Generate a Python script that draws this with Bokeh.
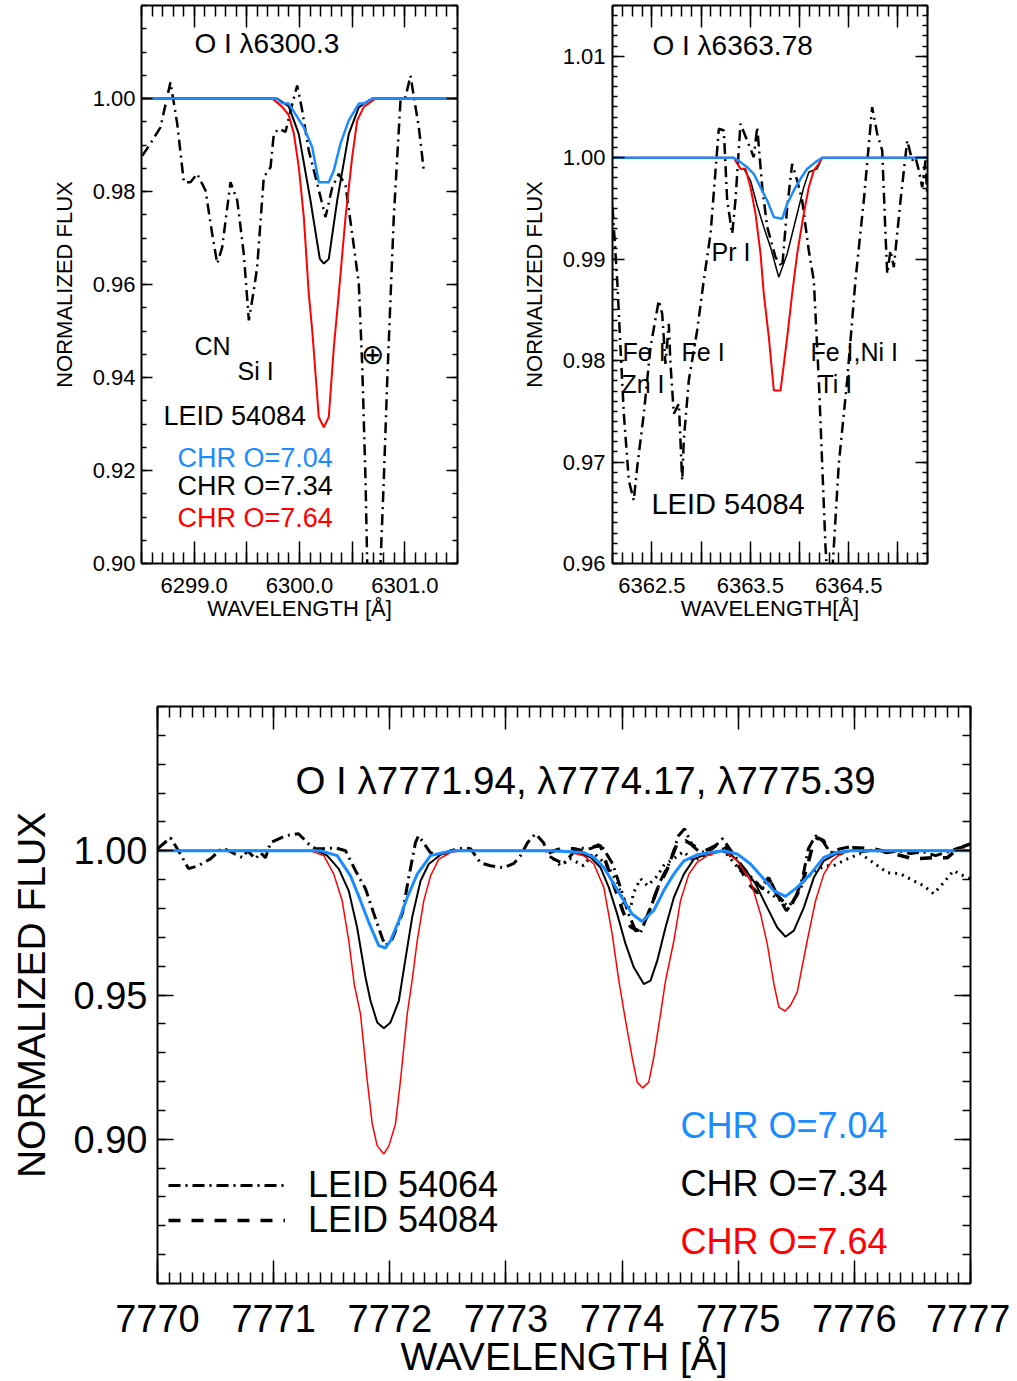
import numpy as np
from bokeh.plotting import figure
from bokeh.models import Range1d, LinearAxis, FixedTicker, CustomJSTickFormatter, Legend, LegendItem
from bokeh.layouts import column, row
from bokeh.embed import file_html
from bokeh.resources import INLINE
from bokeh.core.properties import value

FONT = "Liberation Sans"
BLUE = "#1a8cff"
RED = "#ff0000"
BLACK = "#000000"

# ================= DATA =================
# --- Panel 1: O I 6300.3 ---
p1_obs_wl = [6298.507, 6298.585, 6298.680, 6298.775, 6298.839, 6298.902, 6298.965, 6299.029, 6299.108, 6299.171,
             6299.219, 6299.266, 6299.345, 6299.409, 6299.471, 6299.519, 6299.566, 6299.598, 6299.661, 6299.725,
             6299.756, 6299.804, 6299.867, 6299.915, 6299.978, 6300.026, 6300.088, 6300.168, 6300.247, 6300.311,
             6300.373, 6300.437, 6300.500, 6300.563, 6300.595, 6300.627, 6300.643, 6300.703, 6300.769, 6300.800,
             6300.833, 6300.895, 6300.959, 6301.006, 6301.054, 6301.086, 6301.133, 6301.180]
p1_obs_fx = [0.9877, 0.9903, 0.9938, 1.0035, 0.9946, 0.9820, 0.9820, 0.9838, 0.9802, 0.9709,
             0.9645, 0.9680, 0.9820, 0.9781, 0.9666, 0.9523, 0.9587, 0.9637, 0.9831, 0.9852,
             0.9924, 0.9935, 0.9928, 0.9974, 1.0028, 0.9974, 0.9888, 0.9817, 0.9745, 0.9809,
             0.9838, 0.9813, 0.9709, 0.9602, 0.9429, 0.9178, 0.8999, 0.8700, 0.9000, 0.9178,
             0.9394, 0.9745, 0.9996, 1.0003, 1.0049, 1.0003, 0.9938, 0.9845]

p1_blue_wl = [6298.5, 6299.779, 6299.836, 6299.898, 6300.041, 6300.121, 6300.183, 6300.278, 6300.326, 6300.389,
              6300.468, 6300.563, 6300.611, 6300.690, 6301.5]
p1_blue_fx = [1.0, 1.0, 0.9990, 0.9989, 0.9938, 0.9895, 0.9820, 0.9820, 0.9845, 0.9903,
              0.9953, 0.9989, 0.9989, 1.0, 1.0]

p1_black_wl = [6298.5, 6299.788, 6299.898, 6299.993, 6300.104, 6300.193, 6300.231, 6300.278, 6300.358, 6300.468,
               6300.563, 6300.611, 6300.690, 6301.5]
p1_black_fx = [1.0, 1.0, 0.9983, 0.9924, 0.9781, 0.9655, 0.9645, 0.9655, 0.9781, 0.9924,
               0.9981, 0.9989, 1.0, 1.0]

p1_red_wl = [6298.5, 6299.741, 6299.836, 6299.898, 6299.946, 6299.993, 6300.041, 6300.088, 6300.121, 6300.183,
             6300.231, 6300.278, 6300.326, 6300.373, 6300.437, 6300.500, 6300.548, 6300.611, 6300.722, 6301.5]
p1_red_fx = [1.0, 1.0, 0.9982, 0.9964, 0.9925, 0.9853, 0.9745, 0.9580, 0.9501, 0.9315,
             0.9293, 0.9315, 0.9465, 0.9580, 0.9745, 0.9874, 0.9953, 0.9982, 1.0, 1.0]

# --- Panel 2: O I 6363.78 ---
p2_obs_wl = [6362.100, 6362.148, 6362.181, 6362.215, 6362.266, 6362.316, 6362.351, 6362.418, 6362.486, 6362.570,
             6362.605, 6362.638, 6362.672, 6362.689, 6362.723, 6362.774, 6362.808, 6362.824, 6362.875, 6362.960,
             6363.027, 6363.096, 6363.180, 6363.231, 6363.265, 6363.316, 6363.349, 6363.400, 6363.468, 6363.535,
             6363.570, 6363.621, 6363.672, 6363.756, 6363.824, 6363.875, 6363.925, 6363.976, 6364.027, 6364.094,
             6364.145, 6364.196, 6364.230, 6364.264, 6364.305, 6364.348, 6364.399, 6364.484, 6364.568, 6364.653,
             6364.738, 6364.789, 6364.840, 6364.873, 6364.891, 6364.924, 6364.958, 6365.026, 6365.094, 6365.144,
             6365.178, 6365.212, 6365.246, 6365.280, 6365.297]
p2_obs_fx = [0.99512, 0.98790, 0.98132, 0.97476, 0.96818, 0.96621, 0.96949, 0.97476, 0.98132, 0.98592,
             0.98461, 0.97968, 0.98363, 0.97968, 0.97476, 0.97574, 0.96818, 0.97212, 0.97804, 0.98297,
             0.98790, 0.99250, 1.00285, 1.00268, 0.99578, 0.99250, 0.99578, 1.00334, 1.00170, 1.00005,
             1.00301, 0.99709, 0.99315, 0.99019, 0.98921, 0.99512, 0.99940, 0.99775, 0.99578, 0.99085,
             0.98790, 0.97804, 0.96983, 0.96161, 0.95500, 0.96161, 0.96983, 0.97804, 0.98790, 0.99578,
             1.00498, 1.00236, 1.00071, 0.99250, 0.98856, 0.99085, 0.98921, 0.99578, 1.00170, 0.99974,
             1.00005, 0.99875, 0.99709, 0.99974, 0.99611]

p2_blue_wl = [6362.1, 6363.332, 6363.400, 6363.468, 6363.535, 6363.603, 6363.671, 6363.739, 6363.824, 6363.875,
              6363.942, 6364.010, 6364.078, 6364.162, 6364.230, 6365.3]
p2_blue_fx = [1.0, 1.0, 0.99956, 0.99906, 0.99841, 0.99709, 0.99578, 0.99414, 0.99398, 0.99546,
              0.99677, 0.99792, 0.99891, 0.99956, 1.0, 1.0]

p2_black_wl = [6362.1, 6363.332, 6363.400, 6363.434, 6363.502, 6363.570, 6363.637, 6363.705, 6363.789, 6363.875,
               6363.976, 6364.043, 6364.094, 6364.179, 6364.230, 6365.3]
p2_black_fx = [1.0, 1.0, 0.99891, 0.99891, 0.99775, 0.99529, 0.99315, 0.99118, 0.98822, 0.99053,
               0.99447, 0.99709, 0.99857, 0.99891, 1.0, 1.0]

p2_red_wl = [6362.1, 6363.332, 6363.400, 6363.451, 6363.502, 6363.553, 6363.604, 6363.637, 6363.688, 6363.739,
             6363.807, 6363.875, 6363.925, 6363.976, 6364.043, 6364.094, 6364.145, 6364.196, 6364.230, 6365.3]
p2_red_fx = [1.0, 1.0, 0.99891, 0.99891, 0.99709, 0.99447, 0.99053, 0.98658, 0.98231, 0.97705,
             0.97705, 0.98231, 0.98658, 0.99053, 0.99447, 0.99709, 0.99874, 0.99940, 1.0, 1.0]

# --- Panel 3: O I triplet ---
p3_leid54064_wl = [7770.000, 7770.112, 7770.181, 7770.267, 7770.353, 7770.456, 7770.560, 7770.646, 7770.732, 7770.775,
                   7770.844, 7770.887, 7770.930, 7770.973, 7771.102, 7771.214, 7771.300, 7771.360, 7771.421, 7771.533,
                   7771.619, 7771.705, 7771.791, 7771.860, 7771.937, 7771.963, 7772.023, 7772.110, 7772.161, 7772.221,
                   7772.247, 7772.290, 7772.351, 7772.437, 7772.523, 7772.635, 7772.695, 7772.781, 7772.867, 7772.979,
                   7773.065, 7773.126, 7773.186, 7773.255, 7773.324, 7773.367, 7773.410, 7773.496, 7773.616, 7773.728,
                   7773.814, 7773.918, 7773.987, 7774.055, 7774.116, 7774.159, 7774.245, 7774.331, 7774.417, 7774.486,
                   7774.538, 7774.607, 7774.675, 7774.779, 7774.865, 7774.951, 7775.037, 7775.123, 7775.209, 7775.278,
                   7775.347, 7775.415, 7775.484, 7775.553, 7775.604, 7775.666, 7775.726, 7775.794, 7775.881, 7775.967,
                   7776.070, 7776.173, 7776.276, 7776.380, 7776.483, 7776.586, 7776.699, 7776.811, 7776.897, 7777.000]
p3_leid54064_fx = [1.0007, 1.0045, 1.0000, 0.9938, 0.9948, 0.9972, 1.0010, 0.9993, 0.9976, 1.0000,
                   0.9972, 0.9993, 0.9976, 1.0028, 1.0052, 1.0059, 1.0024, 1.0007, 1.0007, 1.0010,
                   1.0000, 0.9931, 0.9868, 0.9785, 0.9695, 0.9671, 0.9695, 0.9785, 0.9903, 1.0028,
                   1.0052, 1.0028, 0.9993, 0.9983, 1.0000, 1.0010, 1.0007, 0.9958, 0.9948, 0.9941,
                   0.9955, 0.9983, 1.0028, 1.0059, 1.0028, 0.9983, 0.9972, 0.9955, 1.0010, 1.0007,
                   1.0024, 0.9955, 0.9872, 0.9782, 0.9723, 0.9716, 0.9802, 0.9896, 0.9965, 1.0052,
                   1.0076, 1.0017, 0.9993, 1.0007, 1.0042, 0.9993, 0.9945, 0.9903, 0.9868, 0.9896,
                   0.9837, 0.9792, 0.9827, 0.9903, 1.0007, 1.0052, 1.0035, 0.9993, 1.0007, 1.0014,
                   0.9997, 1.0003, 0.9993, 1.0000, 0.9990, 0.9997, 0.9983, 0.9997, 1.0010, 1.0017]

p3_leid54084_wl = [7773.367, 7773.470, 7773.582, 7773.659, 7773.745, 7773.814, 7773.900, 7773.961, 7774.012, 7774.073,
                   7774.133, 7774.219, 7774.305, 7774.391, 7774.477, 7774.546, 7774.632, 7774.718, 7774.804, 7774.865,
                   7774.934, 7775.020, 7775.080, 7775.166, 7775.261, 7775.338, 7775.399, 7775.450, 7775.536, 7775.597,
                   7775.640, 7775.683, 7775.734, 7775.795, 7775.881, 7775.993, 7776.165, 7776.337, 7776.509, 7776.682,
                   7776.802, 7776.888, 7777.000]
p3_leid54084_fx = [0.9993, 1.0007, 1.0007, 1.0000, 1.0014, 1.0017, 0.9913, 0.9844, 0.9785, 0.9737,
                   0.9723, 0.9775, 0.9868, 0.9938, 1.0028, 1.0035, 1.0014, 1.0000, 1.0017, 1.0028,
                   0.9983, 0.9938, 0.9889, 0.9854, 0.9906, 0.9844, 0.9820, 0.9809, 0.9868, 0.9948,
                   1.0017, 1.0045, 1.0035, 0.9993, 0.9990, 1.0010, 1.0007, 0.9990, 0.9972, 0.9976,
                   0.9976, 1.0007, 1.0024]

p3_dotted_wl = [7773.410, 7773.470, 7773.556, 7773.668, 7773.754, 7773.875, 7773.961, 7774.012, 7774.073, 7774.098,
                7774.159, 7774.219, 7774.305, 7774.357, 7774.443, 7774.529, 7774.615, 7774.701, 7774.787, 7774.865,
                7774.934, 7775.020, 7775.106, 7775.192, 7775.278, 7775.364, 7775.433, 7775.502, 7775.579, 7775.666,
                7775.752, 7775.821, 7775.941, 7776.053, 7776.165, 7776.285, 7776.397, 7776.509, 7776.596, 7776.682,
                7776.768, 7776.854, 7776.940, 7777.000]
p3_dotted_fx = [0.9972, 0.9948, 0.9972, 0.9948, 0.9993, 0.9948, 0.9889, 0.9820, 0.9799, 0.9854,
                0.9903, 0.9879, 0.9913, 0.9948, 0.9972, 0.9997, 0.9965, 0.9983, 0.9990, 1.0007,
                0.9972, 0.9931, 0.9903, 0.9879, 0.9851, 0.9827, 0.9806, 0.9844, 0.9903, 0.9931,
                0.9948, 0.9948, 0.9972, 0.9990, 0.9958, 0.9924, 0.9920, 0.9896, 0.9879, 0.9851,
                0.9889, 0.9931, 0.9913, 0.9903]

p3_blue_wl = [7770.0, 7771.403, 7771.547, 7771.662, 7771.748, 7771.819, 7771.905, 7771.963, 7772.006, 7772.078,
              7772.150, 7772.236, 7772.351, 7772.465, 7772.551, 7773.384, 7773.671, 7773.757, 7773.843, 7773.929,
              7774.015, 7774.087, 7774.173, 7774.273, 7774.359, 7774.445, 7774.532, 7774.647, 7774.761, 7774.876,
              7774.991, 7775.106, 7775.220, 7775.307, 7775.407, 7775.508, 7775.622, 7775.737, 7775.852, 7775.967,
              7777.0]
p3_blue_fx = [1.0, 1.0, 0.9983, 0.9913, 0.9827, 0.9752, 0.9671, 0.9663, 0.9688, 0.9757,
              0.9838, 0.9919, 0.9983, 0.9994, 1.0, 1.0, 0.9994, 0.9977, 0.9942, 0.9885,
              0.9827, 0.9781, 0.9755, 0.9793, 0.9862, 0.9919, 0.9965, 0.9986, 0.9994, 1.0,
              0.9989, 0.9954, 0.9902, 0.9861, 0.9842, 0.9873, 0.9919, 0.9977, 0.9994, 1.0,
              1.0]

p3_black_wl = [7770.0, 7771.375, 7771.461, 7771.561, 7771.647, 7771.719, 7771.791, 7771.834, 7771.892, 7771.949,
               7772.006, 7772.078, 7772.121, 7772.193, 7772.265, 7772.336, 7772.437, 7772.523, 7773.470, 7773.614,
               7773.728, 7773.814, 7773.886, 7773.958, 7774.030, 7774.101, 7774.187, 7774.245, 7774.303, 7774.374,
               7774.446, 7774.532, 7774.618, 7774.733, 7774.848, 7774.934, 7775.048, 7775.149, 7775.250, 7775.336,
               7775.407, 7775.479, 7775.565, 7775.651, 7775.737, 7775.852, 7775.967, 7777.0]
p3_black_fx = [1.0, 1.0, 0.9983, 0.9937, 0.9861, 0.9734, 0.9561, 0.9480, 0.9405, 0.9385,
               0.9405, 0.9480, 0.9590, 0.9770, 0.9896, 0.9954, 0.9986, 1.0, 1.0, 0.9994,
               0.9977, 0.9942, 0.9873, 0.9781, 0.9677, 0.9596, 0.9538, 0.9550, 0.9619, 0.9734,
               0.9838, 0.9919, 0.9971, 0.9989, 1.0, 0.9989, 0.9942, 0.9885, 0.9803, 0.9734,
               0.9702, 0.9723, 0.9803, 0.9907, 0.9965, 0.9991, 1.0, 1.0]

p3_red_wl = [7770.0, 7771.317, 7771.432, 7771.518, 7771.590, 7771.647, 7771.695, 7771.748, 7771.806, 7771.849,
             7771.892, 7771.949, 7771.992, 7772.049, 7772.092, 7772.150, 7772.192, 7772.236, 7772.293, 7772.351,
             7772.422, 7772.523, 7772.609, 7773.470, 7773.556, 7773.671, 7773.757, 7773.843, 7773.915, 7773.972,
             7774.030, 7774.087, 7774.130, 7774.178, 7774.230, 7774.273, 7774.331, 7774.374, 7774.446, 7774.503,
             7774.575, 7774.647, 7774.733, 7774.819, 7774.876, 7774.991, 7775.106, 7775.192, 7775.250, 7775.307,
             7775.350, 7775.402, 7775.450, 7775.508, 7775.594, 7775.666, 7775.737, 7775.809, 7775.881, 7775.967,
             7777.0]
p3_red_fx = [1.0, 1.0, 0.9983, 0.9919, 0.9827, 0.9688, 0.9535, 0.9434, 0.9203, 0.9053,
             0.8977, 0.8949, 0.8977, 0.9053, 0.9203, 0.9434, 0.9549, 0.9688, 0.9827, 0.9913,
             0.9971, 0.9994, 1.0, 1.0, 0.9994, 0.9983, 0.9954, 0.9873, 0.9711, 0.9550,
             0.9411, 0.9284, 0.9198, 0.9178, 0.9198, 0.9284, 0.9434, 0.9549, 0.9688, 0.9827,
             0.9919, 0.9960, 0.9983, 0.9994, 1.0, 0.9966, 0.9896, 0.9781, 0.9677, 0.9539,
             0.9458, 0.9444, 0.9464, 0.9510, 0.9688, 0.9827, 0.9919, 0.9966, 0.9989, 1.0,
             1.0]

# ================= HELPERS =================
def ticker(major, minor):
    return FixedTicker(ticks=[float(v) for v in major], minor_ticks=[float(v) for v in minor])


def style_axis(ax, tk, fmt, mj, mn, size, standoff, show=True):
    ax.ticker = tk
    ax.formatter = fmt if show else CustomJSTickFormatter(code="return '';")
    ax.major_tick_in = mj
    ax.major_tick_out = 0
    ax.minor_tick_in = mn
    ax.minor_tick_out = 0
    ax.major_tick_line_width = 1.5
    ax.minor_tick_line_width = 1.5
    ax.major_tick_line_color = BLACK
    ax.minor_tick_line_color = BLACK
    ax.axis_line_width = 2
    ax.axis_line_color = BLACK
    ax.major_label_text_font = FONT
    ax.major_label_text_color = BLACK
    ax.major_label_text_font_size = f"{size}px" if show else "0px"
    ax.major_label_standoff = standoff if show else 0


def set_label(ax, text, size, standoff):
    ax.axis_label = text
    ax.axis_label_text_font = FONT
    ax.axis_label_text_font_size = f"{size}px"
    ax.axis_label_text_font_style = "normal"
    ax.axis_label_text_color = BLACK
    ax.axis_label_standoff = standoff


def make_panel(xr, yr, fw, fh, bl, br, bt, bb, xmaj, xmin, ymaj, ymin, xfmt_code, yfmt_code,
               xt, yt, size, xstd, ystd, xlab, ylab, lsize, xlstd, ylstd):
    p = figure(x_range=Range1d(*xr), y_range=Range1d(*yr), frame_width=fw, frame_height=fh,
               min_border_left=bl, min_border_right=br, min_border_top=bt, min_border_bottom=bb,
               output_backend="svg", toolbar_location=None)
    p.xgrid.visible = False
    p.ygrid.visible = False
    p.outline_line_color = None
    p.background_fill_color = "white"
    p.border_fill_color = "white"
    xa_bot = p.below[0]
    ya_left = p.left[0]
    xa_top = LinearAxis()
    ya_right = LinearAxis()
    p.add_layout(xa_top, "above")
    p.add_layout(ya_right, "right")
    style_axis(xa_bot, ticker(xmaj, xmin), CustomJSTickFormatter(code=xfmt_code), xt[0], xt[1], size, xstd)
    style_axis(xa_top, ticker(xmaj, xmin), None, xt[0], xt[1], size, 0, show=False)
    style_axis(ya_left, ticker(ymaj, ymin), CustomJSTickFormatter(code=yfmt_code), yt[0], yt[1], size, ystd)
    style_axis(ya_right, ticker(ymaj, ymin), None, yt[0], yt[1], size, 0, show=False)
    set_label(xa_bot, xlab, lsize, xlstd)
    set_label(ya_left, ylab, lsize, ylstd)
    return p


def txt(p, x, y, s, color=BLACK, size=25, font=FONT, align="left"):
    p.text(x=[x], y=[y], text=[s], text_color=color, text_font=value(font),
           text_font_size=f"{size}px", text_baseline="middle", text_align=align)


Y2 = "return tick.toFixed(2);"

# ================= PANEL 1 =================
p1 = make_panel((6298.5, 6301.5), (0.90, 1.02), 316, 558, 141, 40, 5, 70,
                np.arange(6299.0, 6301.01, 0.5), np.round(np.arange(6298.5, 6301.51, 0.1), 2),
                np.round(np.arange(0.90, 1.001, 0.02), 2), np.round(np.arange(0.90, 1.0201, 0.005), 3),
                "return Math.abs(tick - Math.round(tick)) < 1e-6 ? tick.toFixed(1) : '';", Y2,
                (22, 11), (11, 5), 22, 14, 6, "WAVELENGTH [Å]", "NORMALIZED FLUX", 22, 0, 13)
p1.line(p1_obs_wl, p1_obs_fx, line_color=BLACK, line_width=2.5, line_dash="11 5 2 5")
p1.line(p1_black_wl, p1_black_fx, line_color=BLACK, line_width=2)
p1.line(p1_red_wl, p1_red_fx, line_color=RED, line_width=2)
p1.line(p1_blue_wl, p1_blue_fx, line_color=BLUE, line_width=2.5)
txt(p1, 6299.003, 1.0118, "O I λ6300.3", size=28)
txt(p1, 6299.003, 0.9467, "CN", size=25)
txt(p1, 6299.411, 0.9415, "Si I", size=25)
txt(p1, 6300.693, 0.9449, "⊕", size=28, font="DejaVu Sans", align="center")
txt(p1, 6298.709, 0.9318, "LEID 54084", size=27)
txt(p1, 6298.842, 0.9226, "CHR O=7.04", color=BLUE, size=27)
txt(p1, 6298.842, 0.9166, "CHR O=7.34", color=BLACK, size=27)
txt(p1, 6298.842, 0.9097, "CHR O=7.64", color=RED, size=27)

# ================= PANEL 2 =================
p2 = make_panel((6362.1, 6365.3), (0.96, 1.015), 315, 558, 115, 40, 5, 70,
                np.arange(6362.5, 6365.01, 0.5), np.round(np.arange(6362.1, 6365.31, 0.1), 2),
                np.round(np.arange(0.96, 1.0101, 0.01), 2), np.round(np.arange(0.96, 1.0151, 0.001), 3),
                "const t = tick - 0.5; return Math.abs(t - Math.round(t)) < 1e-6 ? tick.toFixed(1) : '';", Y2,
                (22, 11), (12, 5), 22, 14, 7, "WAVELENGTH[Å]", "NORMALIZED FLUX", 22, 0, 13)
p2.line(p2_obs_wl, p2_obs_fx, line_color=BLACK, line_width=2.5, line_dash="11 5 2 5")
p2.line(p2_black_wl, p2_black_fx, line_color=BLACK, line_width=1.5)
p2.line(p2_red_wl, p2_red_fx, line_color=RED, line_width=2)
p2.line(p2_blue_wl, p2_blue_fx, line_color=BLUE, line_width=2.5)
txt(p2, 6362.506, 1.0111, "O I λ6363.78", size=28)
txt(p2, 6363.106, 0.99075, "Pr I", size=25)
txt(p2, 6362.202, 0.9808, "Fe I", size=25)
txt(p2, 6362.801, 0.9808, "Fe I", size=25)
txt(p2, 6362.191, 0.97774, "Zn I", size=25)
txt(p2, 6364.111, 0.9808, "Fe I,Ni I", size=25)
txt(p2, 6364.193, 0.97774, "Ti I", size=25)
txt(p2, 6362.496, 0.96591, "LEID 54084", size=29)

# ================= PANEL 3 =================
p3 = make_panel((7770.0, 7777.0), (0.85, 1.05), 813, 577, 157, 40, 73, 98,
                np.arange(7770, 7777.1, 1.0), np.round(np.arange(7770.0, 7777.01, 0.1), 2),
                [0.90, 0.95, 1.00], np.round(np.arange(0.85, 1.0501, 0.01), 2),
                "return tick.toFixed(0);", Y2,
                (23, 11), (16, 8), 38, 21, 10, "WAVELENGTH [Å]", "NORMALIZED FLUX", 39, 0, 18)
r_dd = p3.line(p3_leid54064_wl, p3_leid54064_fx, line_color=BLACK, line_width=3, line_dash="12 5 2 5")
r_da = p3.line(p3_leid54084_wl, p3_leid54084_fx, line_color=BLACK, line_width=3.5, line_dash="12 11")
p3.line(p3_dotted_wl, p3_dotted_fx, line_color=BLACK, line_width=3, line_dash="2 5")
p3.line(p3_black_wl, p3_black_fx, line_color=BLACK, line_width=2)
p3.line(p3_red_wl, p3_red_fx, line_color=RED, line_width=1.5)
p3.line(p3_blue_wl, p3_blue_fx, line_color=BLUE, line_width=3)
txt(p3, 7771.188, 1.0243, "O I λ7771.94, λ7774.17, λ7775.39", size=38.5)
txt(p3, 7774.503, 0.9047, "CHR O=7.04", color=BLUE, size=36)
txt(p3, 7774.503, 0.8846, "CHR O=7.34", color=BLACK, size=36)
txt(p3, 7774.503, 0.8645, "CHR O=7.64", color=RED, size=36)

for lab, rend, bottom in [("LEID 54064", r_dd, 77), ("LEID 54084", r_da, 42)]:
    leg = Legend(items=[LegendItem(label=lab, renderers=[rend])], location=(11, bottom),
                 glyph_width=117, glyph_height=40, label_height=40, label_standoff=23,
                 padding=0, margin=0, spacing=0,
                 border_line_alpha=0, background_fill_alpha=0,
                 label_text_font=FONT, label_text_font_size="36px", label_text_color=BLACK)
    p3.add_layout(leg)

layout = column(row(p1, p2), p3)
open("out.html", "w").write(file_html(layout, INLINE))
